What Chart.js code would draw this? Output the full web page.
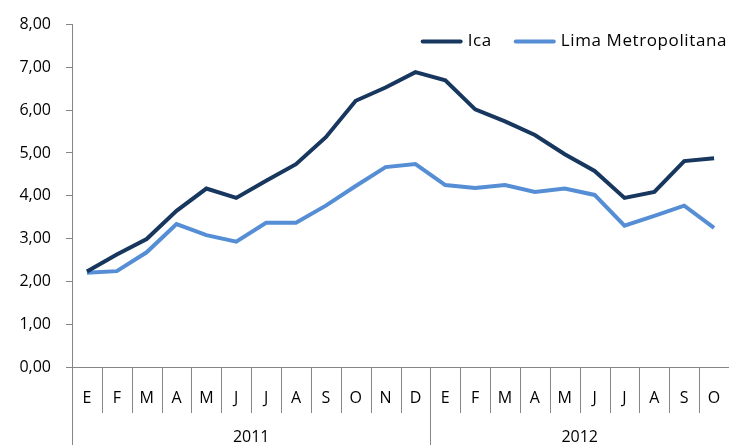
<!DOCTYPE html>
<html>
<head>
<meta charset="utf-8">
<script src="https://cdn.jsdelivr.net/npm/chart.js@4"></script>
<style>
  html, body { margin: 0; padding: 0; background: #fff; }
  #wrap { width: 729px; height: 445px; }
</style>
</head>
<body>
<div id="wrap"><canvas id="chart"></canvas></div>
<script>
const months = ['E','F','M','A','M','J','J','A','S','O','N','D','E','F','M','A','M','J','J','A','S','O'];
const years = ['2011', '2012'];
const monthsPerYear = [12, 10];
const ica = [2.23, 2.63, 2.99, 3.65, 4.17, 3.95, 4.35, 4.74, 5.37, 6.22, 6.53, 6.89,
             6.70, 6.02, 5.74, 5.42, 4.97, 4.58, 3.95, 4.09, 4.81, 4.88];
const lima = [2.20, 2.24, 2.68, 3.34, 3.08, 2.93, 3.37, 3.37, 3.77, 4.23, 4.67, 4.74,
              4.25, 4.18, 4.25, 4.09, 4.17, 4.02, 3.30, 3.53, 3.77, 3.25];

const axisGrey = '#868686';
const font = { family: 'Open Sans', size: 16 };

// separators between months and the year row under the x axis
const groupAxis = {
    id: 'groupAxis',
    afterDraw(chart) {
        const ctx = chart.ctx;
        const x = chart.scales.x;
        const step = (x.right - x.left) / months.length;
        const top = x.top;
        ctx.save();
        ctx.strokeStyle = axisGrey;
        ctx.lineWidth = 1;
        const bounds = [0];
        monthsPerYear.reduce((acc, n) => { bounds.push(acc + n); return acc + n; }, 0);
        for (let i = 0; i <= months.length; i++) {
            const px = Math.round(x.left + i * step) + 0.5;
            const long = bounds.includes(i);
            ctx.beginPath();
            ctx.moveTo(px, top);
            ctx.lineTo(px, long ? chart.height : top + 46);
            ctx.stroke();
        }
        ctx.fillStyle = '#000';
        ctx.font = '16px "Open Sans"';
        ctx.textAlign = 'center';
        ctx.textBaseline = 'middle';
        years.forEach((y, k) => {
            const mid = x.left + (bounds[k] + bounds[k + 1]) / 2 * step;
            ctx.fillText(y, mid, top + 70);
        });
        ctx.restore();
    }
};

// legend inside the plot, top right
const lineLegend = {
    id: 'lineLegend',
    afterDraw(chart) {
        const ctx = chart.ctx;
        const area = chart.chartArea;
        const sets = chart.data.datasets;
        ctx.save();
        ctx.font = '17px "Open Sans"';
        ctx.letterSpacing = '0.6px';
        ctx.textBaseline = 'middle';
        ctx.textAlign = 'left';
        const y = area.top + 17;
        let widths = sets.map(d => 42 + 5 + ctx.measureText(d.label).width);
        let x = 727 - widths.reduce((a, b) => a + b, 0) - 22 * (sets.length - 1);
        sets.forEach((d, i) => {
            ctx.strokeStyle = d.borderColor;
            ctx.lineWidth = 4;
            ctx.lineCap = 'round';
            ctx.beginPath();
            ctx.moveTo(x + 2, y);
            ctx.lineTo(x + 40, y);
            ctx.stroke();
            ctx.fillStyle = '#000';
            ctx.fillText(d.label, x + 47, y);
            x += widths[i] + 22;
        });
        ctx.restore();
    }
};

new Chart(document.getElementById('chart'), {
    type: 'line',
    data: {
        labels: months,
        datasets: [{
            label: 'Ica',
            data: ica,
            borderColor: '#17375E',
            backgroundColor: '#17375E',
            borderWidth: 4,
            pointRadius: 0,
            tension: 0
        }, {
            label: 'Lima Metropolitana',
            data: lima,
            borderColor: '#558ED5',
            backgroundColor: '#558ED5',
            borderWidth: 4,
            pointRadius: 0,
            tension: 0
        }]
    },
    options: {
        responsive: true,
        maintainAspectRatio: false,
        animation: false,
        layout: { padding: { top: 23, left: 0, right: 0, bottom: 0 } },
        plugins: {
            legend: { display: false },
            tooltip: { enabled: false }
        },
        scales: {
            x: {
                offset: true,
                grid: { display: false },
                border: { display: true, color: axisGrey },
                ticks: { color: '#000', font: font, padding: 14, maxRotation: 0, autoSkip: false },
                afterFit: function (scale) {
                    scale.height = 78;
                    scale.paddingLeft = 0;
                    scale.paddingRight = 0;
                }
            },
            y: {
                min: 0,
                max: 8,
                grid: { drawOnChartArea: false, tickLength: 6, color: axisGrey },
                border: { display: true, color: axisGrey },
                ticks: {
                    stepSize: 1,
                    color: '#000',
                    font: font,
                    padding: 15,
                    callback: function (value) { return value.toFixed(2).replace('.', ','); }
                },
                afterFit: function (scale) { scale.width = 72; }
            }
        }
    },
    plugins: [groupAxis, lineLegend]
});
</script>
</body>
</html>
